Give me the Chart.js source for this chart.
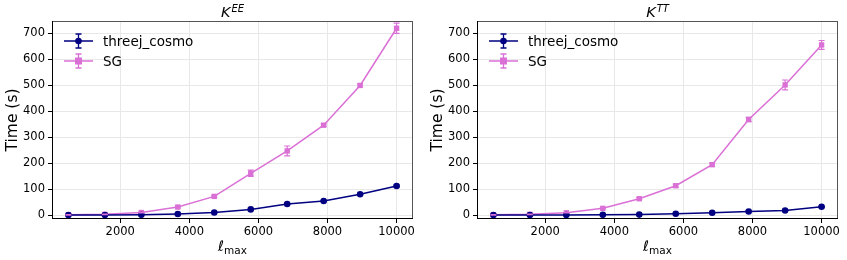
<!DOCTYPE html>
<html>
<head>
<meta charset="utf-8">
<script src="https://cdn.jsdelivr.net/npm/chart.js@4/dist/chart.umd.min.js"></script>
<style>
  body { margin: 0; background: #fff; }
  .wrap { position: absolute; top: 0; height: 260px; }
  #w1 { left: 0; width: 420px; }
  #w2 { left: 420px; width: 427px; }
</style>
</head>
<body>
<div class="wrap" id="w1"><canvas id="c1" width="420" height="260"></canvas></div>
<div class="wrap" id="w2"><canvas id="c2" width="427" height="260"></canvas></div>
<script>
const lmax = [500, 1556, 2611, 3667, 4722, 5778, 6833, 7889, 8944, 10000];

const eeThreej    = [0, 0, 1, 4, 10, 22, 43, 54, 80, 112];
const eeThreejErr = [0.5, 0.5, 0.5, 1, 1, 1.5, 2, 2, 2, 3];
const eeSG        = [1, 3, 10, 31, 72, 161, 247, 346, 499, 719];
const eeSGErr     = [1, 1, 2, 3, 4, 12, 19, 5, 6, 20];

const ttThreej    = [0, 0, 0.5, 1, 2, 5, 9, 14, 18, 32];
const ttThreejErr = [0.3, 0.3, 0.3, 0.5, 0.5, 1, 1, 1.5, 2, 2];
const ttSG        = [1, 3, 9, 26, 63, 113, 194, 368, 501, 655];
const ttSGErr     = [1, 1, 1, 2, 3, 5, 7, 8, 19, 17];

const xTicks = [2000, 4000, 6000, 8000, 10000];
const yTicks = [0, 100, 200, 300, 400, 500, 600, 700];

const NAVY = '#000080';
const ORCHID = '#DA70D6';
const FONT = '"DejaVu Sans", sans-serif';

function pts(ys) { return lmax.map((x, i) => ({ x: x, y: ys[i] })); }

const extras = {
  id: 'extras',
  afterDatasetsDraw(chart, args, opts) {
    const ctx = chart.ctx;
    const xs = chart.scales.x, ys = chart.scales.y;
    // error bars
    chart.data.datasets.forEach(ds => {
      ctx.save();
      ctx.strokeStyle = ds.borderColor;
      ctx.lineWidth = 1.2;
      ds.data.forEach((p, i) => {
        const e = ds.err[i];
        const px = xs.getPixelForValue(p.x);
        const top = ys.getPixelForValue(p.y + e);
        const bot = ys.getPixelForValue(p.y - e);
        ctx.beginPath();
        ctx.moveTo(px, top); ctx.lineTo(px, bot);
        ctx.moveTo(px - 3, top); ctx.lineTo(px + 3, top);
        ctx.moveTo(px - 3, bot); ctx.lineTo(px + 3, bot);
        ctx.stroke();
      });
      ctx.restore();
    });
  },
  afterDraw(chart, args, opts) {
    const ctx = chart.ctx;
    const a = chart.chartArea;
    ctx.save();
    // spines
    ctx.lineWidth = 1;
    ctx.strokeStyle = '#555';
    ctx.beginPath();
    ctx.moveTo(a.left, a.top + 0.5); ctx.lineTo(a.right, a.top + 0.5);
    ctx.moveTo(a.right - 0.5, a.top); ctx.lineTo(a.right - 0.5, a.bottom);
    ctx.stroke();
    ctx.strokeStyle = '#000';
    ctx.beginPath();
    ctx.moveTo(a.left + 0.5, a.top); ctx.lineTo(a.left + 0.5, a.bottom);
    ctx.moveTo(a.left, a.bottom - 0.5); ctx.lineTo(a.right, a.bottom - 0.5);
    ctx.stroke();

    // title K^XX
    const cx = (a.left + a.right) / 2;
    ctx.fillStyle = '#000';
    ctx.textBaseline = 'alphabetic';
    ctx.textAlign = 'left';
    ctx.font = 'italic 14.5px ' + FONT;
    const kw = ctx.measureText('K').width;
    ctx.font = 'italic 10px ' + FONT;
    const sw = ctx.measureText(opts.sup).width;
    const tx = cx - (kw + sw + 1) / 2;
    ctx.font = 'italic 14.5px ' + FONT;
    ctx.fillText('K', tx, 17);
    ctx.font = 'italic 10px ' + FONT;
    ctx.fillText(opts.sup, tx + kw + 1, 12);

    // x label l_max
    ctx.font = 'italic 14.5px ' + FONT;
    const lw = ctx.measureText('ℓ').width;
    ctx.font = '10.5px ' + FONT;
    const mw = ctx.measureText('max').width;
    const lx = cx - (lw + mw) / 2;
    ctx.font = 'italic 14.5px ' + FONT;
    ctx.fillText('ℓ', lx, 251);
    ctx.font = '10.5px ' + FONT;
    ctx.fillText('max', lx + lw, 254);

    // legend
    chart.data.datasets.forEach((ds, i) => {
      const ly = a.top + 20 + i * 20;
      const x0 = a.left + 12, x1 = a.left + 41, xm = (x0 + x1) / 2;
      ctx.strokeStyle = ds.borderColor;
      ctx.fillStyle = ds.borderColor;
      ctx.lineWidth = 1.3;
      ctx.beginPath();
      ctx.moveTo(x0, ly); ctx.lineTo(x1, ly);
      ctx.moveTo(xm, ly - 7); ctx.lineTo(xm, ly + 7);
      ctx.moveTo(xm - 3, ly - 7); ctx.lineTo(xm + 3, ly - 7);
      ctx.moveTo(xm - 3, ly + 7); ctx.lineTo(xm + 3, ly + 7);
      ctx.stroke();
      if (ds.pointStyle === 'rect') {
        ctx.fillRect(xm - 3.5, ly - 3.5, 7, 7);
      } else {
        ctx.beginPath(); ctx.arc(xm, ly, 3.3, 0, Math.PI * 2); ctx.fill();
      }
      ctx.fillStyle = '#000';
      ctx.font = '13.5px ' + FONT;
      ctx.textBaseline = 'middle';
      ctx.fillText(ds.label, x1 + 10, ly + 1);
      ctx.textBaseline = 'alphabetic';
    });
    ctx.restore();
  }
};

function makeChart(id, sup, thr, thrErr, sg, sgErr, yWidth, padRight, titlePad) {
  return new Chart(document.getElementById(id), {
    type: 'line',
    data: {
      datasets: [
        { label: 'threej_cosmo', data: pts(thr), err: thrErr, borderColor: NAVY, backgroundColor: NAVY,
          borderWidth: 1.5, pointStyle: 'circle', pointRadius: 3.3, pointBorderWidth: 0 },
        { label: 'SG', data: pts(sg), err: sgErr, borderColor: ORCHID, backgroundColor: ORCHID,
          borderWidth: 1.5, pointStyle: 'rect', pointRadius: 3.8, pointBorderWidth: 0 }
      ]
    },
    options: {
      responsive: false,
      animation: false,
      layout: { padding: { top: 21, right: padRight, left: 0, bottom: 0 } },
      plugins: { legend: { display: false }, tooltip: { enabled: false }, title: { display: false },
                 extras: { sup: sup } },
      scales: {
        x: {
          type: 'linear', min: 25, max: 10475,
          afterBuildTicks: s => { s.ticks = xTicks.map(v => ({ value: v })); },
          afterFit: s => { s.height = 41; },
          grid: { color: '#e8e8e8', tickColor: '#000', tickLength: 4 },
          border: { display: false },
          ticks: { color: '#000', font: { family: FONT, size: 11.5 }, padding: 2, maxRotation: 0,
                   callback: v => String(v) }
        },
        y: {
          type: 'linear', min: -15, max: 747,
          afterBuildTicks: s => { s.ticks = yTicks.map(v => ({ value: v })); },
          afterFit: s => { s.width = yWidth; },
          grid: { color: '#e8e8e8', tickColor: '#000', tickLength: 4 },
          border: { display: false },
          title: { display: true, text: 'Time (s)', color: '#000', font: { family: FONT, size: 15.5 },
                   padding: { top: titlePad, bottom: 0 } },
          ticks: { color: '#000', font: { family: FONT, size: 11.5 }, padding: 3, callback: v => String(v) }
        }
      }
    },
    plugins: [extras]
  });
}

makeChart('c1', 'EE', eeThreej, eeThreejErr, eeSG, eeSGErr, 52, 7, 4);
makeChart('c2', 'TT', ttThreej, ttThreejErr, ttSG, ttSGErr, 57, 9, 9);
</script>
</body>
</html>
